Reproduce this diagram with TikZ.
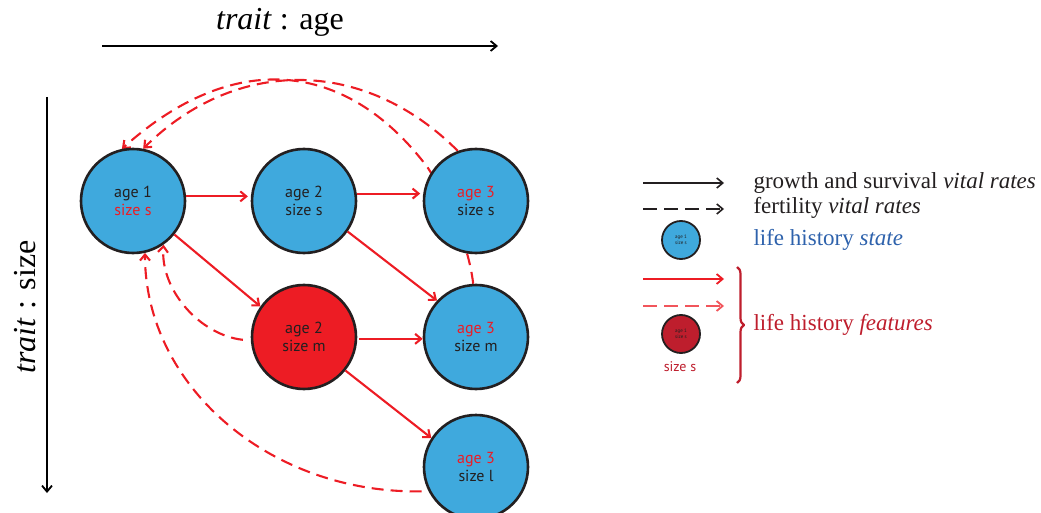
\documentclass[tikz,border=0pt]{standalone}
\usepackage{fontspec}
\setmainfont{Liberation Serif}
\newfontfamily\nodefont{PT Sans}
\usetikzlibrary{arrows.meta,backgrounds,decorations.pathreplacing}

\definecolor{stateblue}{HTML}{3FA9DD}
\definecolor{rateRed}{HTML}{ED1C24}
\definecolor{featRed}{HTML}{BE1E2D}
\definecolor{inkdark}{HTML}{231F20}
\definecolor{labelblue}{HTML}{2E62AC}

\begin{document}
\begin{tikzpicture}[
		x=1pt,
		y=1pt,
		line join=round,
		>={Straight Barb[length=6pt,width=10pt]},
		state/.style={circle, draw=inkdark, line width=2.6pt, fill=stateblue,
			minimum size=104pt, inner sep=0pt, align=center, text=inkdark,
			font=\nodefont\fontsize{16}{17.5}\selectfont},
		feature/.style={state, fill=rateRed},
		mini/.style={circle, draw=inkdark, line width=1.8pt, minimum size=38pt,
			inner sep=0pt, align=center, text=inkdark,
			font=\nodefont\fontsize{5}{6}\selectfont},
		growarrow/.style={->, draw=rateRed, line width=2.1pt},
		fertarrow/.style={->, draw=rateRed, line width=2.1pt, dash pattern=on 12pt off 7pt},
		keytext/.style={anchor=base west, font=\fontsize{23}{26}\selectfont, text=inkdark}
		]
		
		\useasboundingbox (0,0) rectangle (1041,-513);
		
		%------------------------------------------------------------------
		% Axes
		%------------------------------------------------------------------
		\coordinate (ageFrom) at (102,-46);
		\coordinate (ageTo)   at (498,-46);
		\coordinate (sizeFrom) at (47,-97);
		\coordinate (sizeTo)   at (47,-493);
		
		\draw[->, line width=1.8pt] (ageFrom) -- (ageTo);
		\draw[->, line width=1.8pt] (sizeFrom) -- (sizeTo);
		
		\node[anchor=base, font=\fontsize{32}{36}\selectfont] (ageLbl) at (280,-30) {\textit{trait} : age};
		\node[anchor=base, rotate=90, font=\fontsize{32}{36}\selectfont] (sizeLbl) at (35,-307) {\textit{trait} : size};
		
		%------------------------------------------------------------------
		% Life history states
		%------------------------------------------------------------------
		\node[state]   (A1)  at (133,-201) {age 1\\\textcolor{rateRed}{size s}};
		\node[state]   (A2s) at (304,-201) {age 2\\size s};
		\node[state]   (A3s) at (476,-201) {\textcolor{rateRed}{age 3}\\size s};
		\node[feature] (A2m) at (304,-337) {age 2\\size m};
		\node[state]   (A3m) at (476,-337) {\textcolor{rateRed}{age 3}\\size m};
		\node[state]   (A3l) at (476,-467) {\textcolor{rateRed}{age 3}\\size l};
		
		%------------------------------------------------------------------
		% Growth and survival
		%------------------------------------------------------------------
		\draw[growarrow, shorten >=3pt] (A1.5) -- (A2s.175);
		\draw[growarrow, shorten >=3pt] (A2s.8) -- (A3s.172);
		\draw[growarrow] (A1.-39) -- (A2m.145);
		\draw[growarrow] (A2s.-35) -- (A3m.137);
		\draw[growarrow, shorten <=2pt] (A2m.-2) -- (A3m.182);
		\draw[growarrow] (A2m.-39) -- (A3l.147);
		
		%------------------------------------------------------------------
		% Fertility (behind the states)
		%------------------------------------------------------------------
		\begin{scope}[on background layer]
			\draw[fertarrow] (A3s.110) .. controls (364,-57) and (236,-57) .. (A1.79);
			\draw[fertarrow] (A3m.93) .. controls (468,-240) and (445,-195) .. (428,-168)
			.. controls (351,-65) and (239,-44) .. (A1.102);
			\draw[fertarrow, shorten <=8pt] (A2m.184) .. controls (200,-335) and (160,-290) .. (A1.-55);
			\draw[fertarrow, shorten <=7pt] (A3l.-153) .. controls (270,-494) and (145,-386) .. (A1.-77);
		\end{scope}
		
		%------------------------------------------------------------------
		% Key
		%------------------------------------------------------------------
		\coordinate (kGrowA) at (643,-183);
		\coordinate (kGrowB) at (724,-183);
		\coordinate (kFertA) at (643,-209);
		\coordinate (kFertB) at (724,-209);
		\coordinate (kRedA)  at (643,-279);
		\coordinate (kRedB)  at (724,-279);
		\coordinate (kDashA) at (643,-306);
		\coordinate (kDashB) at (724,-306);
		
		\draw[->, line width=1.6pt, inkdark] (kGrowA) -- (kGrowB);
		\draw[->, line width=1.6pt, inkdark, dash pattern=on 14pt off 7pt] (kFertA) -- (kFertB);
		\draw[->, line width=1.8pt, rateRed] (kRedA) -- (kRedB);
		\draw[->, line width=1.8pt, rateRed!75, dash pattern=on 14pt off 7pt] (kDashA) -- (kDashB);
		
		\node[mini, fill=stateblue] (kState) at (681,-240) {age 1\\size s};
		\node[mini, fill=featRed]   (kFeat)  at (681,-334) {age 1\\size s};
		\node[font=\nodefont\fontsize{14}{16}\selectfont, text=featRed] (kSize) at (680,-367) {size s};
		
		\draw[decorate, decoration={brace, amplitude=7pt}, featRed, line width=2.2pt]
		(737,-267) -- (737,-383);
		
		\node[keytext] (tGrow)  at (750,-189) {growth and survival \textit{vital rates}};
		\node[keytext] (tFert)  at (750,-214) {fertility \textit{vital rates}};
		\node[keytext, text=labelblue] (tState) at (750,-245) {life history \textit{state}};
		\node[keytext, text=featRed]   (tFeat)  at (750,-330) {life history \textit{features}};
		
	\end{tikzpicture}
\end{document}
